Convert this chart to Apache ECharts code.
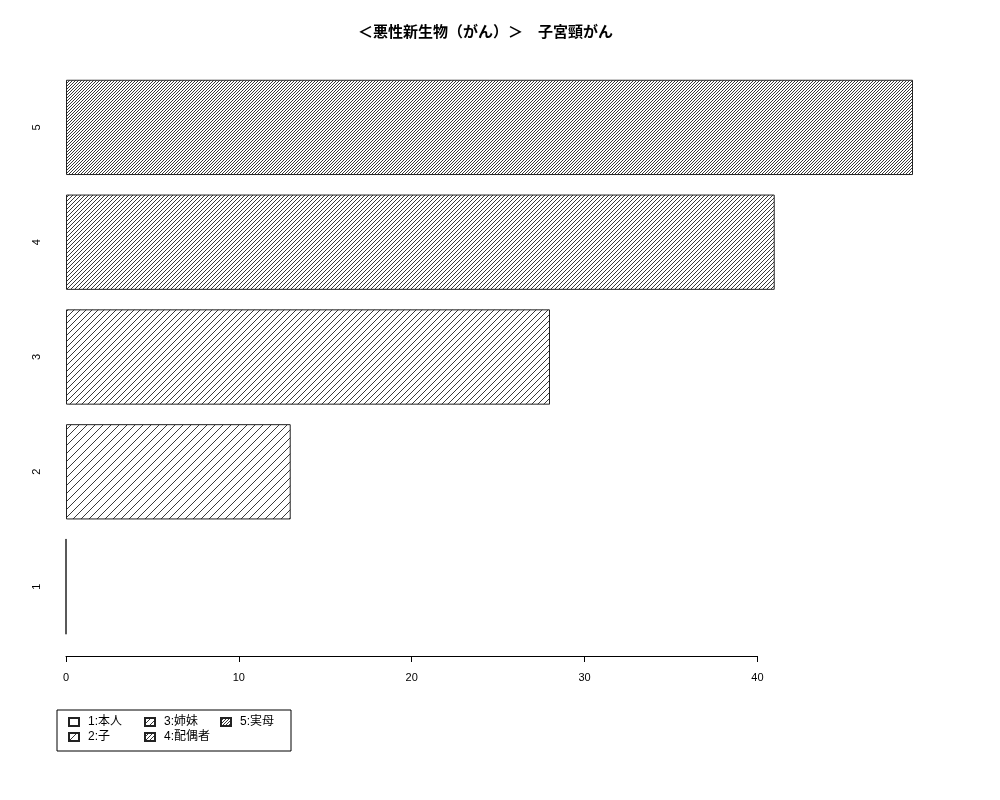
<!DOCTYPE html>
<html><head><meta charset="utf-8">
<script src="https://cdn.jsdelivr.net/npm/echarts@6/dist/echarts.min.js"></script>
<style>html,body{margin:0;padding:0;background:#fff}#c{width:1000px;height:800px}</style>
</head><body><div id="c"></div>
<script>
const titleText = '＜悪性新生物（がん）＞　子宮頸がん';
const categories = ['1', '2', '3', '4', '5'];
const seriesNames = ['1:本人', '2:子', '3:姉妹', '4:配偶者', '5:実母'];
const values = [0, 13, 28, 41, 49];
const xTickMax = 40;
const legendOrder = ['1:本人', '3:姉妹', '5:実母', '2:子', '4:配偶者'];

const hatchSpacing = [0, 8, 6, 4, 3];
const FONT = '"Liberation Sans", "Noto Sans CJK JP", sans-serif';

function hatch(s) {
  if (!s) return '#ffffff';
  const c = document.createElement('canvas');
  c.width = s; c.height = s;
  const g = c.getContext('2d');
  g.fillStyle = '#fff'; g.fillRect(0, 0, s, s);
  g.strokeStyle = '#222'; g.lineWidth = 0.9;
  g.beginPath();
  g.moveTo(-1, s + 1); g.lineTo(s + 1, -1);
  g.moveTo(-1, 1); g.lineTo(1, -1);
  g.moveTo(s - 1, s + 1); g.lineTo(s + 1, s - 1);
  g.stroke();
  return { image: c, repeat: 'repeat' };
}

const series = seriesNames.map((name, i) => ({
  name: name,
  type: 'bar',
  stack: 'all',
  barCategoryGap: '17%',
  itemStyle: { color: hatch(hatchSpacing[i]), borderColor: '#222', borderWidth: 1 },
  emphasis: { disabled: true },
  data: categories.map((c, j) => (j === i ? values[i] : '-'))
}));

const chart = echarts.init(document.getElementById('c'));
chart.setOption({
  animation: false,
  backgroundColor: '#fff',
  title: {
    text: titleText,
    left: 353, top: 20,
    textStyle: { fontFamily: FONT, fontSize: 15, fontWeight: 'bold', color: '#000' }
  },
  legend: {
    data: legendOrder.map(n => (n === '5:実母' ? { name: n, textStyle: { width: 50 } } : n)),
    orient: 'horizontal',
    left: 57, top: 710, width: 260,
    padding: [6, 1, 8, 11],
    itemGap: 3,
    itemWidth: 10, itemHeight: 8,
    icon: 'rect',
    borderColor: '#000', borderWidth: 1,
    selectedMode: false,
    textStyle: { fontFamily: FONT, fontSize: 12, color: '#000', width: 53, lineHeight: 12, padding: [0, 0, 0, 4] }
  },
  grid: [
    { left: 66, right: 87, top: 70, bottom: 156 },
    { left: 66, width: 847 * xTickMax / values[4], bottom: 144, height: 1 }
  ],
  xAxis: [
    { type: 'value', gridIndex: 0, min: 0, max: values[4], show: false },
    {
      type: 'value', gridIndex: 1, min: 0, max: xTickMax, interval: 10,
      axisLine: { show: true, lineStyle: { color: '#000', width: 1 } },
      axisTick: { show: true, length: 6, lineStyle: { color: '#000' } },
      splitLine: { show: false },
      axisLabel: { color: '#000', fontSize: 11, fontFamily: FONT, margin: 16 }
    }
  ],
  yAxis: [
    {
      type: 'category', gridIndex: 0, data: categories,
      axisLine: { show: false }, axisTick: { show: false }, splitLine: { show: false },
      axisLabel: { rotate: 90, color: '#000', fontSize: 11, fontFamily: FONT, margin: 24 }
    },
    { type: 'value', gridIndex: 1, show: false }
  ],
  series: series
});
</script></body></html>
